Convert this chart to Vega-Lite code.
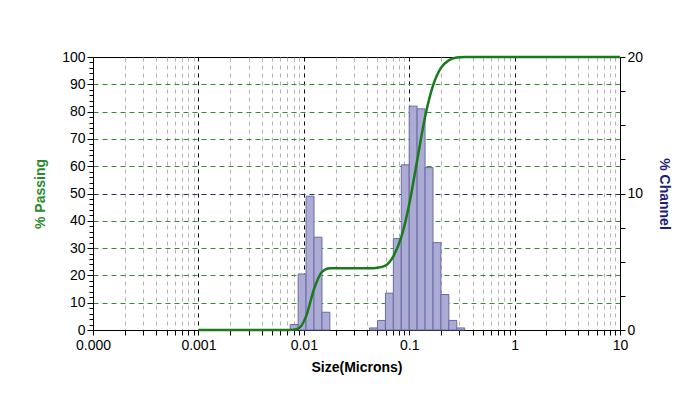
{
  "$schema": "https://vega.github.io/schema/vega-lite/v6.json",
  "width": 527,
  "height": 273,
  "autosize": "none",
  "padding": {"left": 93, "top": 57, "right": 79, "bottom": 75},
  "background": "white",
  "config": {
    "view": {"stroke": "black", "strokeWidth": 1},
    "font": "Liberation Sans",
    "axis": {"labelFont": "Liberation Sans", "labelFontSize": 14, "labelColor": "black", "titleFont": "Liberation Sans", "titleFontSize": 14, "titleFontWeight": "bold", "domainColor": "black", "tickColor": "black", "labelFlush": false}
  },
  "datasets": {
    "bins": [
      {"lo": 0.00743, "hi": 0.00884, "ch": 0.4},
      {"lo": 0.00884, "hi": 0.01051, "ch": 4.1},
      {"lo": 0.01051, "hi": 0.0125, "ch": 9.8},
      {"lo": 0.0125, "hi": 0.01487, "ch": 6.8},
      {"lo": 0.01487, "hi": 0.01768, "ch": 1.3},
      {"lo": 0.042, "hi": 0.05, "ch": 0.15},
      {"lo": 0.05, "hi": 0.0595, "ch": 0.7},
      {"lo": 0.0595, "hi": 0.0707, "ch": 2.7},
      {"lo": 0.0707, "hi": 0.0841, "ch": 6.7},
      {"lo": 0.0841, "hi": 0.1, "ch": 12.1},
      {"lo": 0.1, "hi": 0.1189, "ch": 16.4},
      {"lo": 0.1189, "hi": 0.1414, "ch": 16.2},
      {"lo": 0.1414, "hi": 0.1682, "ch": 11.9},
      {"lo": 0.1682, "hi": 0.2, "ch": 6.4},
      {"lo": 0.2, "hi": 0.2378, "ch": 2.6},
      {"lo": 0.2378, "hi": 0.2828, "ch": 0.7},
      {"lo": 0.2828, "hi": 0.3364, "ch": 0.15}
    ],
    "cum": [
      {"size": 0.001, "pass": 0},
      {"size": 0.00743, "pass": 0},
      {"size": 0.00884, "pass": 0.5},
      {"size": 0.01051, "pass": 5},
      {"size": 0.0125, "pass": 15},
      {"size": 0.01487, "pass": 21.3},
      {"size": 0.01768, "pass": 22.6},
      {"size": 0.042, "pass": 22.6},
      {"size": 0.05, "pass": 22.8},
      {"size": 0.0595, "pass": 23.6},
      {"size": 0.0707, "pass": 27},
      {"size": 0.0841, "pass": 34},
      {"size": 0.1, "pass": 46},
      {"size": 0.1189, "pass": 62},
      {"size": 0.1414, "pass": 78},
      {"size": 0.1682, "pass": 89.5},
      {"size": 0.2, "pass": 96},
      {"size": 0.2378, "pass": 98.8},
      {"size": 0.2828, "pass": 99.8},
      {"size": 0.3364, "pass": 100},
      {"size": 10, "pass": 100}
    ]
  },
  "layer": [
    {
      "data": {"name": "bins"},
      "mark": {"type": "rect", "fill": "#ababd3", "stroke": "#6a6aaa", "strokeWidth": 1},
      "encoding": {
        "x": {
          "field": "lo", "type": "quantitative",
          "scale": {"type": "log", "domain": [0.0001, 10], "nice": false},
          "axis": {
            "title": "Size(Microns)",
            "titleColor": "black",
            "titlePadding": 8,
            "values": [0.0001,0.0002,0.0003,0.0004,0.0005,0.0006,0.0007,0.0008,0.0009,0.001,0.002,0.003,0.004,0.005,0.006,0.007,0.008,0.009,0.01,0.02,0.03,0.04,0.05,0.06,0.07,0.08,0.09,0.1,0.2,0.3,0.4,0.5,0.6,0.7,0.8,0.9,1,2,3,4,5,6,7,8,9,10],
            "labelExpr": "datum.value==0.0001?'0.000':datum.value==0.001?'0.001':datum.value==0.01?'0.01':datum.value==0.1?'0.1':datum.value==1?'1':datum.value==10?'10':''",
            "tickSize": 5,
            "labelPadding": 3,
            "grid": true,
            "gridColor": {"condition": {"test": "datum.value==0.001||datum.value==0.01||datum.value==0.1||datum.value==1", "value": "black"}, "value": "#b0b0b0"},
            "gridDash": [4, 4],
            "gridWidth": 1
          }
        },
        "x2": {"field": "hi"},
        "y": {
          "field": "ch", "type": "quantitative",
          "scale": {"domain": [0, 20], "nice": false},
          "axis": {
            "orient": "right",
            "title": "% Channel",
            "titleColor": "#1c1c7a",
            "titlePadding": 14,
            "values": [0, 2.5, 5, 7.5, 10, 12.5, 15, 17.5, 20],
            "labelExpr": "datum.value%10==0?datum.label:''",
            "tickSize": 5,
            "labelPadding": 2,
            "grid": true,
            "gridColor": {"condition": {"test": "datum.value==10", "value": "#2a2a7a"}, "value": "rgba(0,0,0,0)"},
            "gridDash": [5, 4]
          }
        },
        "y2": {"datum": 0}
      }
    },
    {
      "data": {"name": "cum"},
      "mark": {"type": "line", "color": "#1b7a1b", "strokeWidth": 2.5, "interpolate": "monotone"},
      "encoding": {
        "x": {
          "field": "size", "type": "quantitative",
          "scale": {"type": "log", "domain": [0.0001, 10], "nice": false},
          "axis": {
            "title": "Size(Microns)",
            "titleColor": "black",
            "titlePadding": 8,
            "values": [0.0001,0.0002,0.0003,0.0004,0.0005,0.0006,0.0007,0.0008,0.0009,0.001,0.002,0.003,0.004,0.005,0.006,0.007,0.008,0.009,0.01,0.02,0.03,0.04,0.05,0.06,0.07,0.08,0.09,0.1,0.2,0.3,0.4,0.5,0.6,0.7,0.8,0.9,1,2,3,4,5,6,7,8,9,10],
            "labelExpr": "datum.value==0.0001?'0.000':datum.value==0.001?'0.001':datum.value==0.01?'0.01':datum.value==0.1?'0.1':datum.value==1?'1':datum.value==10?'10':''",
            "tickSize": 5,
            "labelPadding": 3,
            "grid": true,
            "gridColor": {"condition": {"test": "datum.value==0.001||datum.value==0.01||datum.value==0.1||datum.value==1", "value": "black"}, "value": "#b0b0b0"},
            "gridDash": [4, 4],
            "gridWidth": 1
          }
        },
        "y": {
          "field": "pass", "type": "quantitative",
          "scale": {"domain": [0, 100], "nice": false},
          "axis": {
            "orient": "left",
            "title": "% Passing",
            "titleColor": "#2a8a2a",
            "titlePadding": 14,
            "values": [0,2,4,6,8,10,12,14,16,18,20,22,24,26,28,30,32,34,36,38,40,42,44,46,48,50,52,54,56,58,60,62,64,66,68,70,72,74,76,78,80,82,84,86,88,90,92,94,96,98,100],
            "labelExpr": "datum.value%10==0?datum.label:''",
            "tickSize": {"condition": {"test": "datum.value%10==0", "value": 6}, "value": 4},
            "labelPadding": 2,
            "grid": true,
            "gridColor": {"condition": {"test": "datum.value%10==0&&datum.value!=50&&datum.value>0&&datum.value<100", "value": "#2f8f2f"}, "value": "rgba(0,0,0,0)"},
            "gridDash": [5, 4]
          }
        }
      }
    }
  ],
  "resolve": {"scale": {"y": "independent"}}
}
